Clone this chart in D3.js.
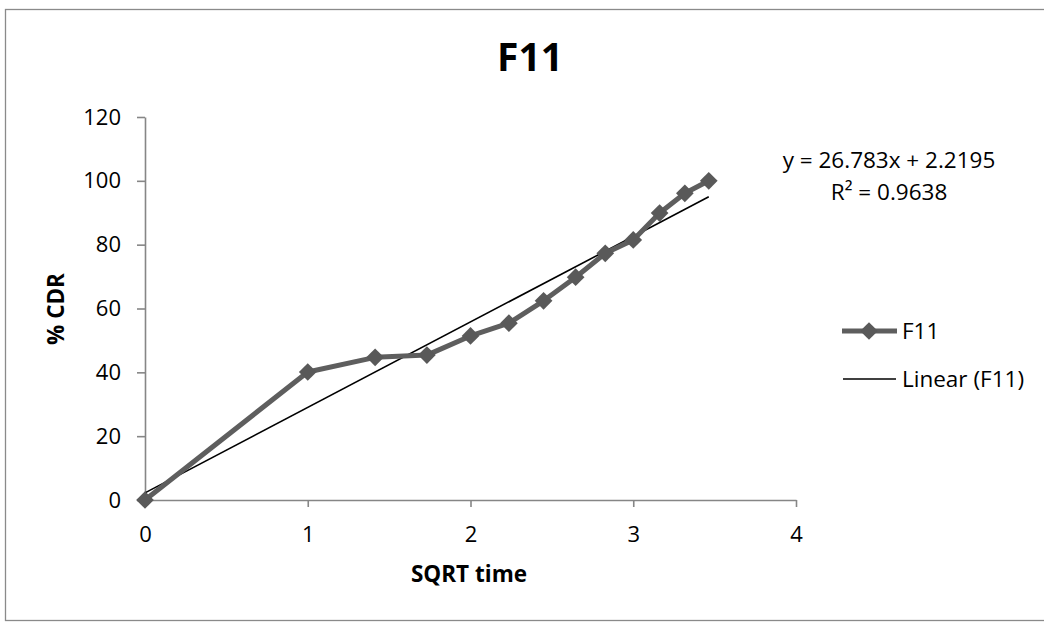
<!DOCTYPE html>
<html>
<head>
<meta charset="utf-8">
<script src="https://cdn.jsdelivr.net/npm/d3@7"></script>
<style>
  html, body { margin: 0; padding: 0; background: #fff; }
  svg { display: block; }
  text { font-family: "Open Sans", "Liberation Sans", sans-serif; fill: #000; }
</style>
</head>
<body>
<svg id="chart" width="1044" height="622"></svg>
<script>
// ---- data ----
const seriesName = "F11";
const sqrtTime = [0, 1, 1.414, 1.732, 2, 2.236, 2.449, 2.646, 2.828, 3, 3.162, 3.317, 3.464];
const cdr      = [0, 40.1, 44.7, 45.4, 51.4, 55.4, 62.4, 69.8, 77.3, 81.5, 89.9, 96.1, 100.0];
const xTicks = [0, 1, 2, 3, 4];
const yTicks = [0, 20, 40, 60, 80, 100, 120];
const trendSlope = [26.783];
const trendIntercept = [2.2195];
const rSquared = [0.9638];
const legendLabels = ["F11", "Linear (F11)"];

// ---- layout ----
const svg = d3.select("#chart");
const W = 1044, H = 622;
const plot = { left: 145, right: 796, top: 117, bottom: 500 };

svg.append("rect").attr("x", 5.5).attr("y", 9.5).attr("width", W + 10).attr("height", 611)
  .attr("fill", "#fff").attr("stroke", "#8a8a8a").attr("stroke-width", 1.3);

const x = d3.scaleLinear().domain([0, 4]).range([plot.left, plot.right]);
const y = d3.scaleLinear().domain([0, 120]).range([plot.bottom, plot.top]);

const axisColor = "#868686";

const yAxis = svg.append("g").attr("transform", `translate(${plot.left},0)`)
  .call(d3.axisLeft(y).tickValues(yTicks).tickSize(8).tickSizeOuter(0).tickPadding(16).tickFormat(d3.format("d")));
const xAxis = svg.append("g").attr("transform", `translate(0,${plot.bottom})`)
  .call(d3.axisBottom(x).tickValues(xTicks).tickSize(7).tickSizeOuter(0).tickPadding(19).tickFormat(d3.format("d")));

[xAxis, yAxis].forEach(g => {
  g.select(".domain").attr("stroke", axisColor).attr("stroke-width", 1.6);
  g.selectAll(".tick line").attr("stroke", axisColor).attr("stroke-width", 1.6);
  g.selectAll(".tick text").attr("fill", "#000")
    .style("font-family", '"Open Sans", "Liberation Sans", sans-serif').style("font-size", "22px");
});

// trendline
const tx0 = d3.min(sqrtTime), tx1 = d3.max(sqrtTime);
svg.append("line")
  .attr("x1", x(tx0)).attr("y1", y(trendSlope[0] * tx0 + trendIntercept[0]))
  .attr("x2", x(tx1)).attr("y2", y(trendSlope[0] * tx1 + trendIntercept[0]))
  .attr("stroke", "#000").attr("stroke-width", 1.6);

// series
const pts = sqrtTime.map((v, i) => [v, cdr[i]]);
const seriesColor = "#5e5e5e";
svg.append("path").datum(pts)
  .attr("d", d3.line().x(d => x(d[0])).y(d => y(d[1])))
  .attr("fill", "none").attr("stroke", seriesColor).attr("stroke-width", 5).attr("stroke-linejoin", "round");

const diamond = d3.symbol().type(d3.symbolDiamond2).size(200);
svg.selectAll(".pt").data(pts).enter().append("path")
  .attr("transform", d => `translate(${x(d[0])},${y(d[1])})`)
  .attr("d", diamond).attr("fill", "#595959");

// trendline label
const eq = svg.append("g").style("font-size", "22.5px");
eq.append("text").attr("x", 889).attr("y", 168).attr("text-anchor", "middle")
  .text(`y = ${trendSlope[0]}x + ${trendIntercept[0]}`);
eq.append("text").attr("x", 889).attr("y", 200).attr("text-anchor", "middle")
  .text(`R² = ${rSquared[0]}`);

// title
svg.append("text").attr("x", 530).attr("y", 71).attr("text-anchor", "middle")
  .style("font-size", "39px").style("font-weight", "bold").text(seriesName);

// axis titles
svg.append("text").attr("x", 469).attr("y", 582).attr("text-anchor", "middle")
  .style("font-size", "22.5px").style("font-weight", "bold").text("SQRT time");
svg.append("text").attr("transform", "translate(64,309) rotate(-90)").attr("text-anchor", "middle")
  .style("font-size", "22.5px").style("font-weight", "bold").text("% CDR");

// legend
const lg = svg.append("g").style("font-size", "22.5px");
lg.append("line").attr("x1", 842).attr("x2", 897).attr("y1", 331).attr("y2", 331)
  .attr("stroke", seriesColor).attr("stroke-width", 5);
lg.append("path").attr("transform", "translate(869,331)").attr("d", diamond).attr("fill", "#595959");
lg.append("text").attr("x", 902).attr("y", 339).text(legendLabels[0]);
lg.append("line").attr("x1", 843).attr("x2", 896).attr("y1", 379).attr("y2", 379)
  .attr("stroke", "#000").attr("stroke-width", 1.6);
lg.append("text").attr("x", 902).attr("y", 387).text(legendLabels[1]);
</script>
</body>
</html>
